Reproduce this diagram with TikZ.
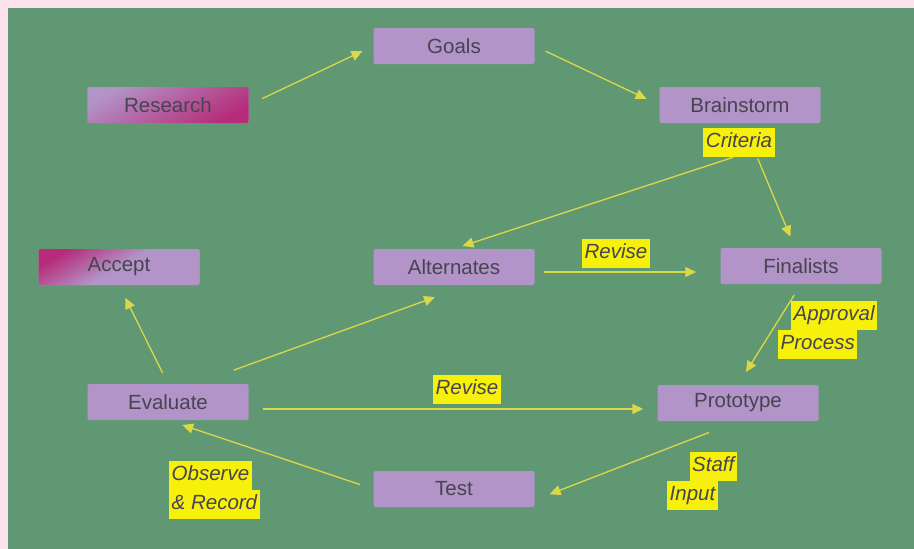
\documentclass[tikz,border=0pt]{standalone}
\usepackage{fontspec}
\setmainfont{Liberation Sans}
\usetikzlibrary{arrows.meta}

\definecolor{pinkbg}{RGB}{252,226,236}
\definecolor{greenbg}{RGB}{97,152,116}
\definecolor{lav}{RGB}{178,148,200}
\definecolor{mag}{RGB}{182,44,122}
\definecolor{hilite}{RGB}{246,240,10}
\definecolor{arrowcol}{RGB}{218,216,70}
\definecolor{inkgray}{RGB}{72,68,80}

\tikzset{
  stage/.style={fill=lav, rounded corners=2pt, minimum width=161pt,
    minimum height=36pt, text=inkgray, font=\fontsize{20.5}{24}\selectfont},
  tag/.style={fill=hilite, inner xsep=2.5pt, inner ysep=5pt, text height=15pt,
    text depth=4pt, text=inkgray, font=\fontsize{20.5}{24}\selectfont\itshape},
  flow/.style={draw=arrowcol, line width=1.3pt,
    -{Triangle[length=11pt,width=10pt]}}
}

\begin{document}
\begin{tikzpicture}[x=1pt,y=-1pt]

% Background
\useasboundingbox (0,0) rectangle (914,549);
\fill[pinkbg] (0,0) rectangle (914,549);
\fill[greenbg] (8,8) rectangle (914,549);

% Stages
\node[stage] (goals) at (454,46) {Goals};
\node[stage, top color=lav, bottom color=mag, shading angle=30] (research) at (168,105) {Research};
\node[stage] (brainstorm) at (740,105) {Brainstorm};
\node[stage, top color=mag, bottom color=lav, middle color=lav, shading angle=30] (accept) at (119,267) {Accept};
\node[stage] (alternates) at (454,267) {Alternates};
\node[stage] (finalists) at (801,266) {Finalists};
\node[stage] (evaluate) at (168,402) {Evaluate};
\node[stage] (prototype) at (738,403) {Prototype};
\node[stage] (test) at (454,489) {Test};

% Tags
\node[tag] (criteria) at (739,142) {Criteria};
\node[tag] (revisetop) at (616,253) {Revise};
\node[tag] (revisemid) at (467,389) {Revise};
\node[tag, anchor=west] (approval) at (791,315) {Approval};
\node[tag, anchor=west] (process) at (778,344) {Process};
\node[tag, anchor=west] (observe) at (169,475) {Observe};
\node[tag, anchor=west] (record) at (169,504) {\& Record};
\node[tag, anchor=east] (staff) at (737,466) {Staff};
\node[tag, anchor=west] (input) at (667,495) {Input};

% Arrows
\draw[flow, shorten <=15pt, shorten >=12pt] (research.east) -- (goals.west);
\draw[flow, shorten <=12pt, shorten >=14pt] (goals.east) -- (brainstorm.west);
\draw[flow, shorten <=2pt, shorten >=9pt] ([xshift=-4pt]criteria.south) -- (alternates.north);
\draw[flow, shorten <=2pt, shorten >=12pt] ([xshift=18pt]criteria.south) -- ([xshift=-6pt]finalists.north);
\draw[flow, shorten <=9pt, shorten >=24pt] ([yshift=-5pt]alternates.east) -- ([yshift=-6pt]finalists.west);
\draw[flow, shorten <=13pt, shorten >=15pt] (finalists.south) -- (prototype.north);
\draw[flow, shorten <=12pt, shorten >=14pt] (evaluate.north) -- (accept.south);
\draw[flow, shorten <=40pt, shorten >=35pt] ([xshift=28pt]evaluate.north) -- ([xshift=14pt]alternates.south);
\draw[flow, shorten <=14pt, shorten >=14pt] ([yshift=-7pt]evaluate.east) -- ([yshift=-6pt]prototype.west);
\draw[flow, shorten <=31pt, shorten >=16pt] (prototype.south) -- ([yshift=-11pt]test.east);
\draw[flow, shorten <=14pt, shorten >=15pt] (test.west) -- (evaluate.south);

\end{tikzpicture}
\end{document}
